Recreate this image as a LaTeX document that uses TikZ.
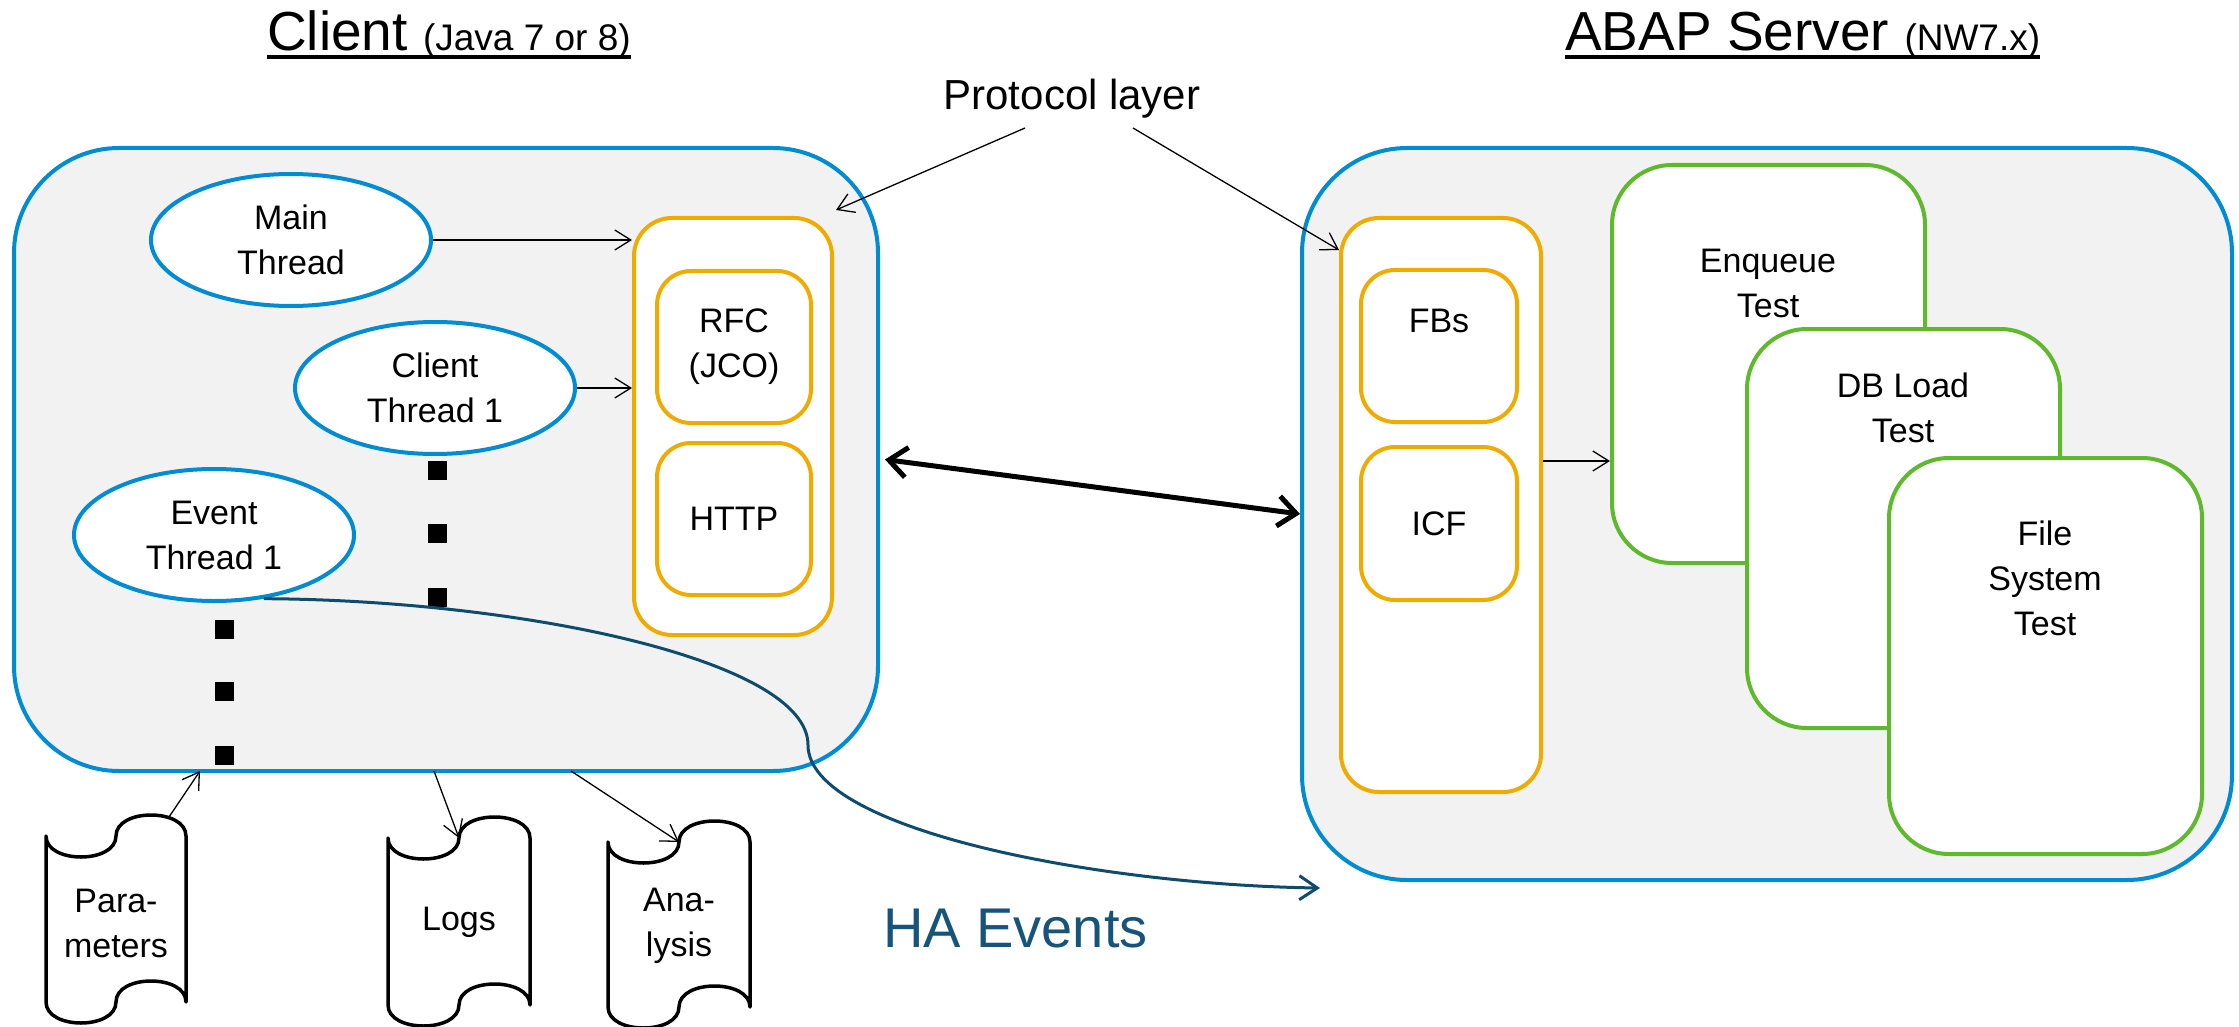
\documentclass[tikz,border=0pt]{standalone}
\usepackage{fontspec}
\setmainfont{Liberation Sans}
\usetikzlibrary{arrows.meta,shapes.geometric,calc}
\definecolor{sapblue}{RGB}{0,140,210}
\definecolor{saporange}{RGB}{240,171,0}
\definecolor{sapgreen}{RGB}{95,185,45}
\definecolor{boxgray}{RGB}{242,242,242}
\definecolor{haline}{RGB}{14,76,110}
\definecolor{hatext}{RGB}{22,84,124}
\newcommand\fsz{\fontsize{34}{45}\selectfont}
\newcommand\ptape[4]{%
  \draw[tapeline] (#1,#3) .. controls (#1,#3+28) and ({(#1+#2)/2},#3+28) .. ({(#1+#2)/2},#3)
    .. controls ({(#1+#2)/2},#3-28) and (#2,#3-28) .. (#2,#3) -- (#2,#4)
    .. controls (#2,#4-28) and ({(#1+#2)/2},#4-28) .. ({(#1+#2)/2},#4)
    .. controls ({(#1+#2)/2},#4+28) and (#1,#4+28) .. (#1,#4) -- cycle;}
\begin{document}
\begin{tikzpicture}[x=1pt,y=-1pt,
  bigbox/.style={draw=sapblue, fill=boxgray, line width=4pt, rounded corners=105pt, inner sep=0pt},
  ell/.style={ellipse, draw=sapblue, line width=4pt, fill=white, minimum width=280pt, minimum height=132pt, inner sep=0pt, align=center, font=\fsz},
  obox/.style={draw=saporange, line width=4pt, fill=white, rounded corners=38pt, inner sep=0pt, align=center, font=\fsz},
  gbox/.style={draw=sapgreen, line width=4pt, fill=white, rounded corners=60pt, inner sep=0pt},
  txt/.style={inner sep=0pt, align=center, font=\fsz},
  tapeline/.style={draw=black, fill=white, line width=3.5pt, line join=round},
  thinarrow/.style={draw=black, line width=1.3pt, -{Straight Barb[length=16pt,width=20pt]}},
  dblarrow/.style={draw=black, line width=5pt, {Straight Barb[length=18pt,width=30pt]}-{Straight Barb[length=18pt,width=30pt]}},
  haarrow/.style={draw=haline, line width=3pt, -{Straight Barb[length=18pt,width=24pt]}},
  dot/.style={fill=black}
]
\useasboundingbox[fill=white] (0,0) rectangle (2239,1027);

% titles
\node[inner sep=0pt, anchor=base west] (ctitle) at (267,51)
  {\fontsize{55}{60}\selectfont Client \fontsize{37}{40}\selectfont(Java 7 or 8)};
\draw[line width=3.5pt] ([yshift=-6pt]ctitle.base west) -- ([yshift=-6pt]ctitle.base east);
\node[inner sep=0pt, anchor=base west] (stitle) at (1565,51)
  {\fontsize{55}{60}\selectfont ABAP Server \fontsize{37}{40}\selectfont(NW7.x)};
\draw[line width=3.5pt] ([yshift=-6pt]stitle.base west) -- ([yshift=-6pt]stitle.base east);

\node[inner sep=0pt, anchor=base, font=\fontsize{42}{46}\selectfont] (pl) at (1072,110) {Protocol layer};

% big boxes
\node[bigbox, minimum width=864pt, minimum height=623pt] (client) at (446,459.5) {};
\node[bigbox, minimum width=930pt, minimum height=732pt] (server) at (1767,514) {};

% client side
\node[ell] (main) at (291,240) {Main\\Thread};
\node[ell] (ct1) at (435,388) {Client\\Thread 1};
\node[ell] (et1) at (214,535) {Event\\Thread 1};

\node[obox, minimum width=198pt, minimum height=417pt] (cproto) at (733,426.5) {};
\node[obox, rounded corners=34pt, minimum width=154pt, minimum height=152pt] (rfc) at (734,347) {RFC\\(JCO)};
\node[obox, rounded corners=34pt, minimum width=154pt, minimum height=152pt] (http) at (734,519) {HTTP};

% dots
\foreach \yy in {470,533,597} {\fill[dot] (427.5,\yy-9.5) rectangle +(19,19);}
\foreach \yy in {629,691,755} {\fill[dot] (214.5,\yy-9.5) rectangle +(19,19);}

% server side
\node[obox, minimum width=200pt, minimum height=574pt] (sproto) at (1441,505) {};
\node[obox, rounded corners=34pt, minimum width=156pt, minimum height=152pt] (fbs) at (1439,346) {};
\node[txt] (fbsT) at (1439,321) {FBs};
\node[obox, rounded corners=34pt, minimum width=156pt, minimum height=153pt] (icf) at (1439,523.5) {ICF};

\node[gbox, minimum width=313pt, minimum height=398pt] (enq) at (1768.5,364) {};
\node[txt] (enqT) at (1768,283) {Enqueue\\Test};
\node[gbox, minimum width=313pt, minimum height=399pt] (dbl) at (1903.5,528.5) {};
\node[txt] (dblT) at (1903,408) {DB Load\\Test};
\node[gbox, minimum width=313pt, minimum height=396pt] (fst) at (2045.5,656) {};
\node[txt] (fstT) at (2045,578) {File\\System\\Test};

% tapes
\ptape{46}{186}{836}{1002}
\node[txt] (par) at (116,923) {Para-\\meters};
\ptape{388}{530}{838}{1005}
\node[txt] (logs) at (459,922) {Logs};
\ptape{608}{750}{842}{1007}
\node[txt] (ana) at (679,926) {Ana-\\lysis};

\coordinate (parTop) at (169,817);
\coordinate (parIn) at (200,771);
\coordinate (logsOut) at (434,771);
\coordinate (logsTop) at (459,838);
\coordinate (anaOut) at (571,771);
\coordinate (anaTop) at (679,842);

% connectors
\draw[thinarrow] (main.east) -- (main.east -| cproto.west);
\draw[thinarrow] (ct1.east) -- (ct1.east -| cproto.west);
\draw[thinarrow] ([yshift=44pt]sproto.east) -- ([yshift=44pt]sproto.east -| enq.west);
\coordinate (pl1) at (1025,128);
\coordinate (pl2) at (1133,128);
\draw[thinarrow] (pl1) -- ([shift={(2pt,6pt)}]cproto.north east);
\draw[thinarrow] (pl2) -- ([yshift=-34pt]sproto.north west);
\draw[dblarrow] ([xshift=5pt]client.east) -- (server.west);
\draw[thinarrow] (parTop) -- (parIn);
\draw[thinarrow] (logsOut) -- (logsTop);
\draw[thinarrow] (anaOut) -- (anaTop);

\coordinate (hatip) at (1320,888);
\draw[haarrow] (et1.-52) .. controls (520,600) and (808,660) .. (808,745)
  .. controls (808,830) and (1100,885) .. (hatip);
\node[inner sep=0pt, anchor=west, text=hatext, font=\fontsize{56}{60}\selectfont] (ha) at (883,929) {HA Events};
\end{tikzpicture}
\end{document}
